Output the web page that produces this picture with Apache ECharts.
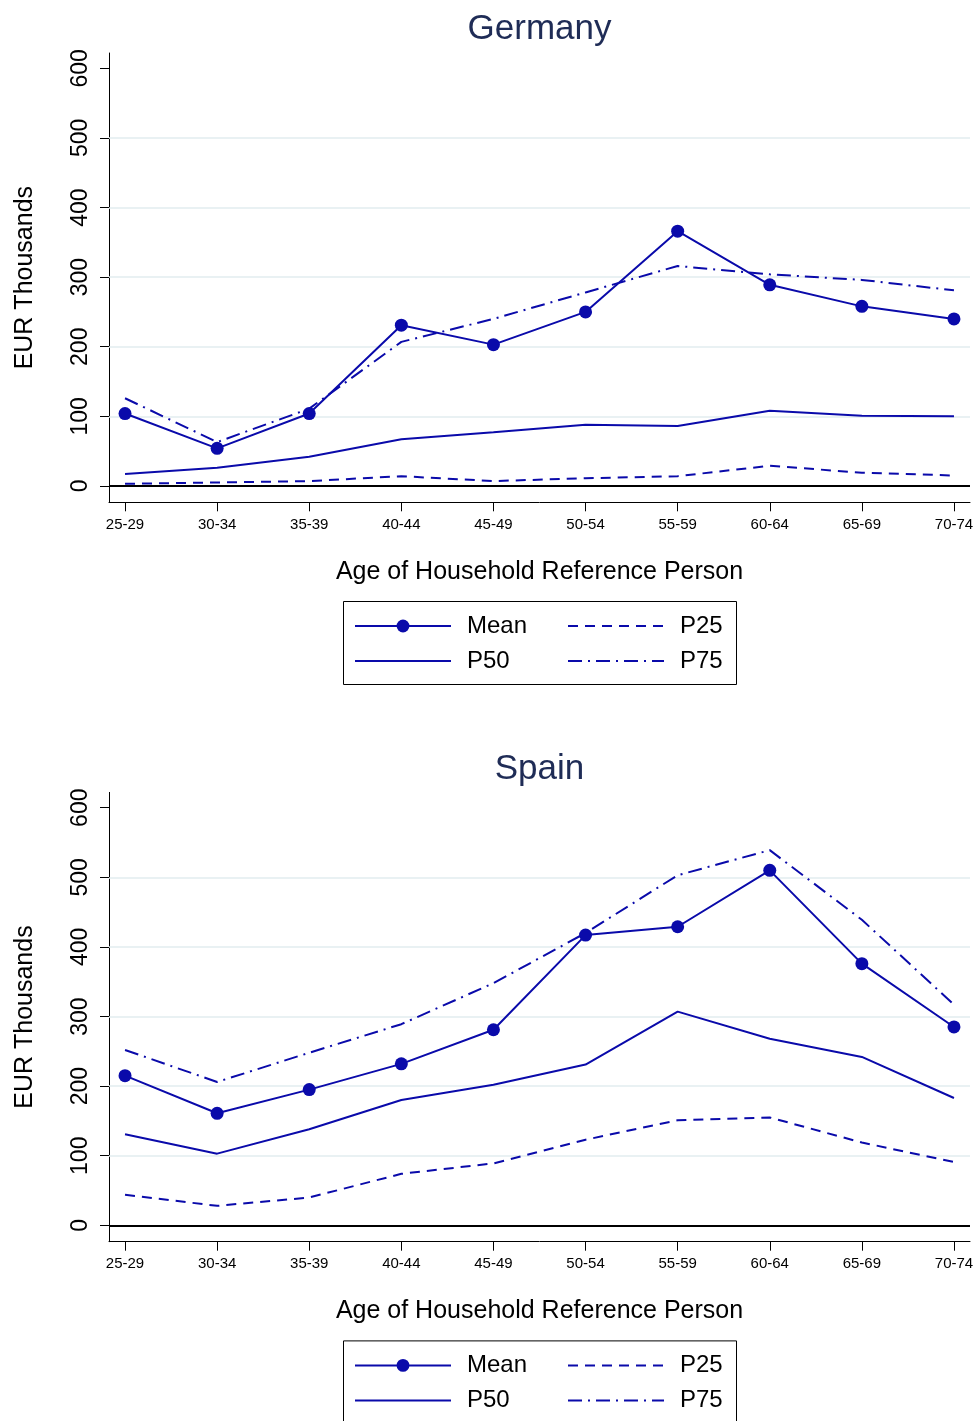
<!DOCTYPE html>
<html><head><meta charset="utf-8">
<script src="https://cdn.jsdelivr.net/npm/echarts@6/dist/echarts.min.js"></script>
<style>html,body{margin:0;padding:0;background:#fff}#c{width:977px;height:1421px}</style>
</head><body><div id="c"></div>
<script>
// ---- data ----
const ages = ['25-29','30-34','35-39','40-44','45-49','50-54','55-59','60-64','65-69','70-74'];
const yTickValues = [0, 100, 200, 300, 400, 500, 600];
const gridValues = [100, 200, 300, 400, 500];

const deMean = [104, 54, 104, 231, 203, 250, 366, 289, 258, 240];
const deP25  = [3, 5, 7, 14, 7, 11, 14, 29, 19, 15];
const deP50  = [17, 26, 42, 67, 77, 88, 86, 108, 101, 100];
const deP75  = [126, 63, 111, 207, 240, 278, 316, 304, 296, 281];

const esMean = [215, 161, 195, 232, 281, 417, 429, 510, 376, 285];
const esP25  = [44, 28, 40, 74, 89, 123, 151, 155, 119, 91];
const esP50  = [131, 103, 138, 180, 202, 231, 307, 268, 242, 183];
const esP75  = [252, 206, 248, 289, 348, 420, 503, 539, 439, 317];

// ---- styles ----
const FONT = '"Liberation Sans", Arial, Helvetica, sans-serif';
const BLUE = '#0a0aaa';
const DY = 739.4;
const xIdx = ages.map((_, i) => i);

const panels = [
  { title: 'Germany', mean: deMean, p25: deP25, p50: deP50, p75: deP75 },
  { title: 'Spain',   mean: esMean, p25: esP25, p50: esP50, p75: esP75 }
];

const option = {
  animation: false,
  backgroundColor: '#fff',
  title: [], grid: [], xAxis: [], yAxis: [], series: [], legend: [], graphic: []
};

const toPairs = arr => arr.map((v, i) => [i, v]);
const noSymbol = { opacity: 0 };

panels.forEach((p, k) => {
  const off = k * DY;
  option.title.push({
    text: p.title, left: 539.5, top: 12 + off, textAlign: 'center', padding: 0,
    textStyle: { fontFamily: FONT, fontSize: 35, fontWeight: 'normal', color: '#1f2c56' }
  });
  option.grid.push({ left: 109, right: 7, top: 53 + off, height: 449.3, containLabel: false });
  option.xAxis.push({
    type: 'value', gridIndex: k, min: -0.174, max: 9.174,
    axisLine: { onZero: false, lineStyle: { color: '#000', width: 1 } },
    axisTick: { show: true, customValues: xIdx, length: 9, lineStyle: { color: '#000', width: 1 } },
    axisLabel: { customValues: xIdx, formatter: v => ages[Math.round(v)], margin: 15,
      fontSize: 15, color: '#000', fontFamily: FONT },
    splitLine: { show: false },
    name: 'Age of Household Reference Person', nameLocation: 'middle', nameGap: 57,
    nameTextStyle: { fontSize: 25, color: '#000', fontFamily: FONT }
  });
  option.yAxis.push({
    type: 'value', gridIndex: k, min: -23.5, max: 622,
    axisLine: { show: true, onZero: false, lineStyle: { color: '#000', width: 1 } },
    axisTick: { show: true, customValues: yTickValues, length: 9, lineStyle: { color: '#000', width: 1 } },
    axisLabel: { customValues: yTickValues, rotate: 90, margin: 17, fontSize: 23, color: '#000', fontFamily: FONT },
    splitLine: { show: false },
    name: 'EUR Thousands', nameLocation: 'middle', nameGap: 71,
    nameTextStyle: { fontSize: 25, color: '#000', fontFamily: FONT }
  });

  const base = { type: 'line', xAxisIndex: k, yAxisIndex: k, silent: true };
  option.series.push(Object.assign({}, base, {
    name: 'P25', data: toPairs(p.p25), symbol: 'none', z: 3,
    lineStyle: { color: BLUE, width: 2, type: [10, 7] }, itemStyle: { color: BLUE },
    markLine: {
      silent: true, symbol: ['none', 'none'], label: { show: false }, z: 1, animation: false,
      data: gridValues.map(v => ({ yAxis: v, lineStyle: { color: '#e2ecef', width: 1.5, type: 'solid' } }))
        .concat([{ yAxis: 0, lineStyle: { color: '#000', width: 2, type: 'solid' } }])
    }
  }));
  option.series.push(Object.assign({}, base, {
    name: 'P50', data: toPairs(p.p50), symbol: 'none', z: 3,
    lineStyle: { color: BLUE, width: 2, type: 'solid' }, itemStyle: { color: BLUE }
  }));
  option.series.push(Object.assign({}, base, {
    name: 'P75', data: toPairs(p.p75), symbol: 'none', z: 3,
    lineStyle: { color: BLUE, width: 2, type: [14, 6, 2, 6] }, itemStyle: { color: BLUE }
  }));
  option.series.push(Object.assign({}, base, {
    name: 'Mean', data: toPairs(p.mean), symbol: 'circle', symbolSize: 13, showSymbol: true, z: 4,
    lineStyle: { color: BLUE, width: 2, type: 'solid' }, itemStyle: { color: BLUE }
  }));

  const legendCommon = {
    orient: 'vertical', top: 614 + off, itemWidth: 96, itemHeight: 16, itemGap: 11,
    padding: 0, selectedMode: false,
    textStyle: { fontSize: 24, lineHeight: 24, color: '#000', fontFamily: FONT, padding: [0, 0, 0, 11] }
  };
  option.legend.push(Object.assign({}, legendCommon, {
    left: 354, data: ['Mean', { name: 'P50', itemStyle: noSymbol }]
  }));
  option.legend.push(Object.assign({}, legendCommon, {
    left: 567, data: [{ name: 'P25', itemStyle: noSymbol }, { name: 'P75', itemStyle: noSymbol }]
  }));

  option.graphic.push({
    type: 'rect', silent: true,
    shape: { x: 343.5, y: 601.5 + off, width: 393, height: 83 },
    style: { fill: 'none', stroke: '#000', lineWidth: 1 }
  });
});

const chart = echarts.init(document.getElementById('c'), null, { renderer: 'canvas' });
chart.setOption(option);
</script>
</body></html>
